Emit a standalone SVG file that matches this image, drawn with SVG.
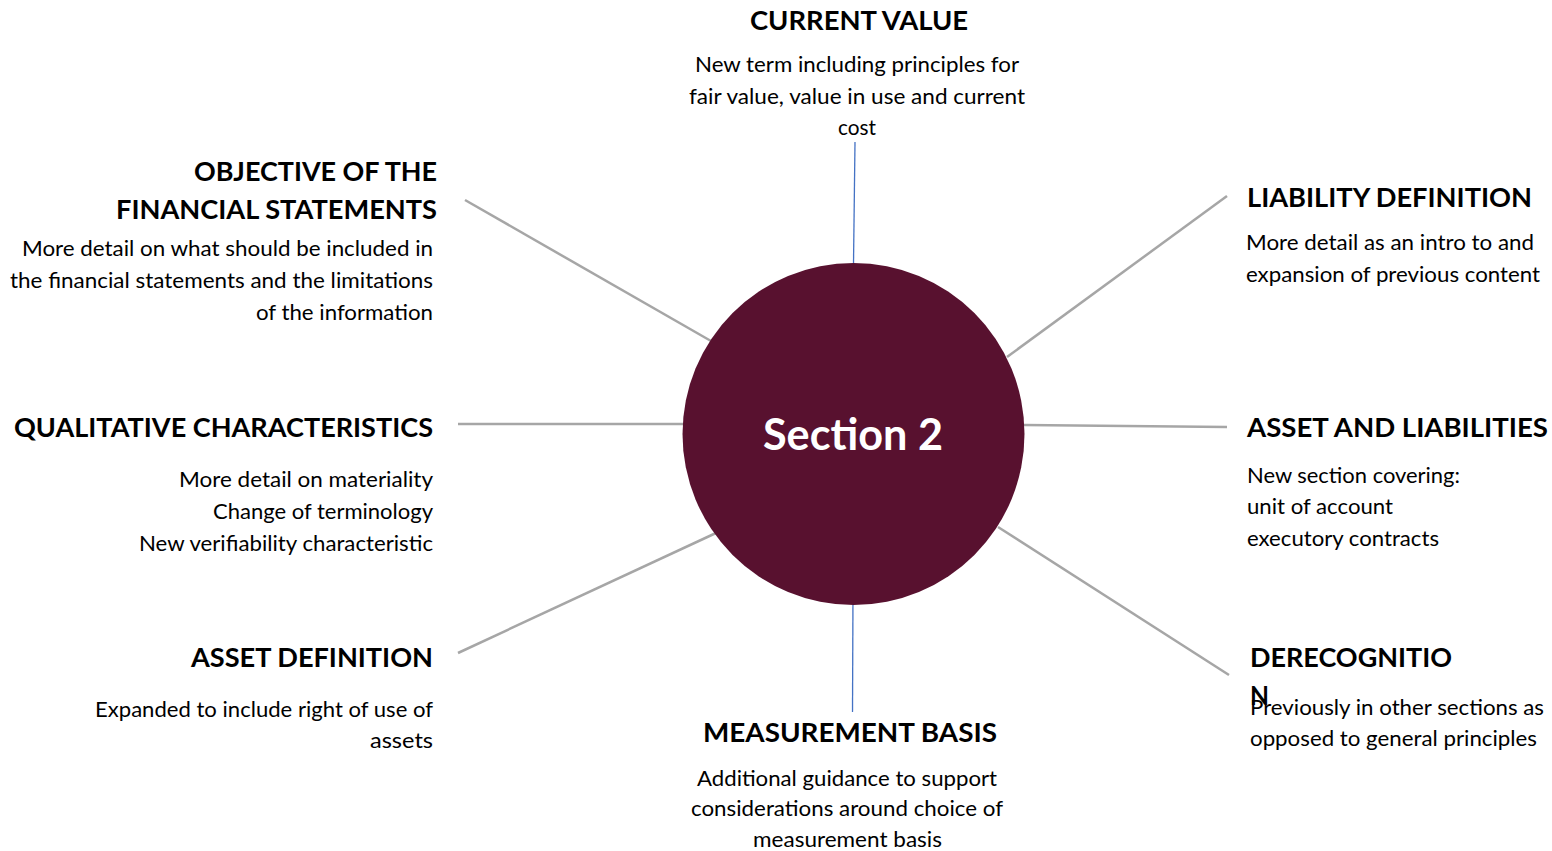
<svg xmlns="http://www.w3.org/2000/svg" width="1552" height="851" viewBox="0 0 1552 851">
  <style>
    .title { font-family: Lato, "Open Sans", "Liberation Sans", sans-serif; font-weight: 700; font-size: 26px; fill: #000000; }
    .body { font-family: Lato, "Open Sans", "Liberation Sans", sans-serif; font-weight: 400; font-size: 20.5px; fill: #000000; }
    .hub { font-family: Lato, "Open Sans", "Liberation Sans", sans-serif; font-weight: 700; font-size: 44px; fill: #FFFFFF; }
    .spoke { stroke: #A6A6A6; stroke-width: 2.5; fill: none; }
    .axis { stroke: #4472C4; stroke-width: 1.3; fill: none; }
  </style>
  <rect width="1552" height="851" fill="#FFFFFF"/>

  <!-- connectors from the hub to each topic -->
  <g id="connectors">
    <line class="axis" x1="855" y1="142" x2="853.5" y2="264"/>
    <line class="axis" x1="853" y1="592" x2="852.5" y2="712"/>
    <line class="spoke" x1="465" y1="200" x2="711" y2="341"/>
    <line class="spoke" x1="458" y1="424" x2="684" y2="424"/>
    <line class="spoke" x1="458" y1="653" x2="716" y2="533"/>
    <line class="spoke" x1="1227" y1="196" x2="1007" y2="357"/>
    <line class="spoke" x1="1024" y1="425" x2="1227" y2="427"/>
    <line class="spoke" x1="998" y1="527" x2="1229" y2="675"/>
  </g>

  <!-- central hub -->
  <g id="hub">
    <circle cx="853.5" cy="434" r="171" fill="#58112F"/>
    <text class="hub" x="853" y="450" text-anchor="middle" textLength="180" lengthAdjust="spacingAndGlyphs">Section 2</text>
  </g>

  <g id="current-value">
    <text class="title" x="859" y="29.5" text-anchor="middle" textLength="218" lengthAdjust="spacingAndGlyphs">CURRENT VALUE</text>
    <text class="body" x="857" y="71.5" text-anchor="middle" textLength="324" lengthAdjust="spacingAndGlyphs">New term including principles for</text>
    <text class="body" x="857" y="103.5" text-anchor="middle" textLength="336" lengthAdjust="spacingAndGlyphs">fair value, value in use and current</text>
    <text class="body" x="857" y="134.5" text-anchor="middle" textLength="38" lengthAdjust="spacingAndGlyphs">cost</text>
  </g>

  <g id="objective">
    <text class="title" x="437" y="180.5" text-anchor="end" textLength="243" lengthAdjust="spacingAndGlyphs">OBJECTIVE OF THE</text>
    <text class="title" x="437" y="218.5" text-anchor="end" textLength="321" lengthAdjust="spacingAndGlyphs">FINANCIAL STATEMENTS</text>
    <text class="body" x="433" y="255.5" text-anchor="end" textLength="411" lengthAdjust="spacingAndGlyphs">More detail on what should be included in</text>
    <text class="body" x="433" y="287.5" text-anchor="end" textLength="423" lengthAdjust="spacingAndGlyphs">the financial statements and the limitations</text>
    <text class="body" x="433" y="319.5" text-anchor="end" textLength="177" lengthAdjust="spacingAndGlyphs">of the information</text>
  </g>

  <g id="qualitative">
    <text class="title" x="433" y="436.5" text-anchor="end" textLength="419" lengthAdjust="spacingAndGlyphs">QUALITATIVE CHARACTERISTICS</text>
    <text class="body" x="433" y="486.5" text-anchor="end" textLength="254" lengthAdjust="spacingAndGlyphs">More detail on materiality</text>
    <text class="body" x="433" y="518.5" text-anchor="end" textLength="220" lengthAdjust="spacingAndGlyphs">Change of terminology</text>
    <text class="body" x="433" y="550.5" text-anchor="end" textLength="294" lengthAdjust="spacingAndGlyphs">New verifiability characteristic</text>
  </g>

  <g id="asset-definition">
    <text class="title" x="433" y="666.5" text-anchor="end" textLength="242" lengthAdjust="spacingAndGlyphs">ASSET DEFINITION</text>
    <text class="body" x="433" y="716.5" text-anchor="end" textLength="338" lengthAdjust="spacingAndGlyphs">Expanded to include right of use of</text>
    <text class="body" x="433" y="748" text-anchor="end" textLength="63" lengthAdjust="spacingAndGlyphs">assets</text>
  </g>

  <g id="measurement-basis">
    <text class="title" x="850" y="741.5" text-anchor="middle" textLength="294" lengthAdjust="spacingAndGlyphs">MEASUREMENT BASIS</text>
    <text class="body" x="847" y="785.5" text-anchor="middle" textLength="300" lengthAdjust="spacingAndGlyphs">Additional guidance to support</text>
    <text class="body" x="847" y="815.5" text-anchor="middle" textLength="312" lengthAdjust="spacingAndGlyphs">considerations around choice of</text>
    <text class="body" x="847.5" y="847" text-anchor="middle" textLength="189" lengthAdjust="spacingAndGlyphs">measurement basis</text>
  </g>

  <g id="liability-definition">
    <text class="title" x="1247" y="206.5" textLength="285" lengthAdjust="spacingAndGlyphs">LIABILITY DEFINITION</text>
    <text class="body" x="1246" y="249.5" textLength="288" lengthAdjust="spacingAndGlyphs">More detail as an intro to and</text>
    <text class="body" x="1246" y="281.5" textLength="294" lengthAdjust="spacingAndGlyphs">expansion of previous content</text>
  </g>

  <g id="asset-and-liabilities">
    <text class="title" x="1247" y="436.5" textLength="301" lengthAdjust="spacingAndGlyphs">ASSET AND LIABILITIES</text>
    <text class="body" x="1247" y="482.5" textLength="213" lengthAdjust="spacingAndGlyphs">New section covering:</text>
    <text class="body" x="1247" y="513.5" textLength="146" lengthAdjust="spacingAndGlyphs">unit of account</text>
    <text class="body" x="1247" y="545.5" textLength="192" lengthAdjust="spacingAndGlyphs">executory contracts</text>
  </g>

  <g id="derecognition">
    <text class="title" x="1250" y="666.5" textLength="202" lengthAdjust="spacingAndGlyphs">DERECOGNITIO</text>
    <text class="title" x="1250" y="704.5" textLength="19" lengthAdjust="spacingAndGlyphs">N</text>
    <text class="body" x="1250" y="714.5" textLength="294" lengthAdjust="spacingAndGlyphs">Previously in other sections as</text>
    <text class="body" x="1250" y="745.5" textLength="287" lengthAdjust="spacingAndGlyphs">opposed to general principles</text>
  </g>
</svg>
